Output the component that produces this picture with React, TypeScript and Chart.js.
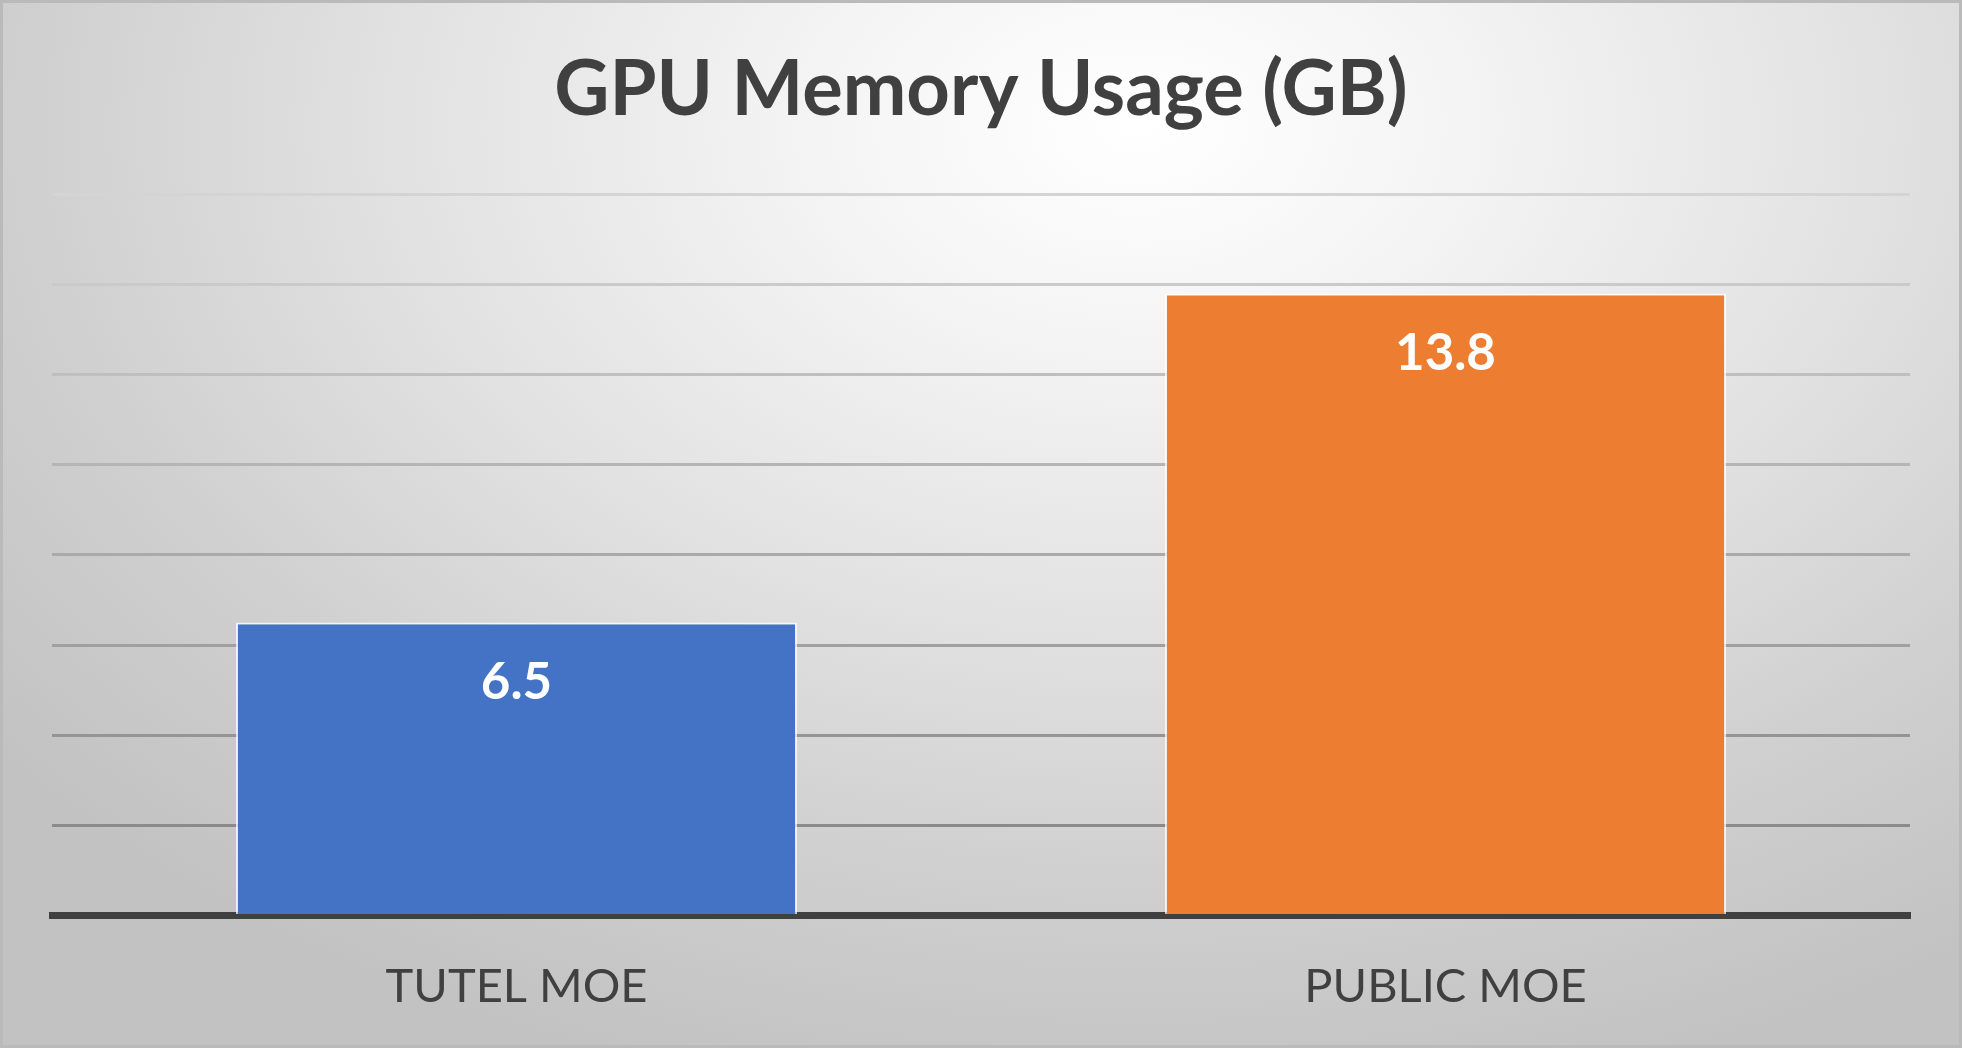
import React, { useEffect, useRef } from "react";
import { Chart, registerables } from "chart.js";

Chart.register(...registerables);

const categories = ["TUTEL MOE", "PUBLIC MOE"];
const memoryGB = [6.5, 13.8];
const barColors = ["#4472C4", "#ED7D31"];
const chartTitle = "GPU Memory Usage (GB)";
const yMax = 16;
const yStep = 2;

const FONT = "Lato, 'Open Sans', sans-serif";

function gridColor(value: number): string {
  if (value <= 0) return "rgba(0,0,0,0)";
  // lighter near the top, darker toward the bottom
  const t = value / yMax;
  const g = Math.round(128 + (212 - 128) * t);
  return `rgb(${g},${g},${g})`;
}

const valueLabels = {
  id: "valueLabels",
  afterDatasetsDraw(chart: any) {
    const ctx = chart.ctx;
    const meta = chart.getDatasetMeta(0);
    const data = chart.data.datasets[0].data as number[];
    ctx.save();
    ctx.fillStyle = "#ffffff";
    ctx.font = `bold 51px ${FONT}`;
    ctx.textAlign = "center";
    ctx.textBaseline = "middle";
    meta.data.forEach((bar: any, i: number) => {
      ctx.fillText(String(data[i]), bar.x, bar.y + 60);
    });
    ctx.restore();
  },
};

export default function App() {
  const ref = useRef<HTMLCanvasElement | null>(null);

  useEffect(() => {
    if (!ref.current) return;
    const chart = new Chart(ref.current, {
      type: "bar",
      data: {
        labels: categories,
        datasets: [
          {
            data: memoryGB,
            backgroundColor: barColors,
            borderColor: "rgba(255,255,255,0.75)",
            borderWidth: 2,
            barPercentage: 0.604,
            categoryPercentage: 1,
          },
        ],
      },
      options: {
        responsive: false,
        animation: false,
        devicePixelRatio: 1,
        layout: { padding: { left: 52, right: 52, top: 0, bottom: 1 } },
        plugins: {
          legend: { display: false },
          tooltip: { enabled: false },
          title: {
            display: true,
            text: chartTitle,
            color: "#404040",
            font: { family: FONT, size: 76, weight: "bold", lineHeight: 1.2 },
            padding: { top: 45, bottom: 58 },
          },
        },
        scales: {
          x: {
            grid: { display: false, drawTicks: false },
            border: { display: true, color: "#404040", width: 7 },
            ticks: {
              color: "#404040",
              font: { family: FONT, size: 47, lineHeight: 1.2 },
              padding: 43,
            },
          },
          y: {
            min: 0,
            max: yMax,
            ticks: { display: false, stepSize: yStep },
            border: { display: false },
            grid: {
              drawTicks: false,
              lineWidth: 3,
              color: (ctx: any) => gridColor(ctx.tick ? ctx.tick.value : 0),
            },
          },
        },
      },
      plugins: [valueLabels],
    });
    return () => chart.destroy();
  }, []);

  return (
    <div
      style={{
        position: "fixed",
        left: 0,
        top: 0,
        width: 1962,
        height: 1048,
        overflow: "hidden",
        background:
          "radial-gradient(ellipse 75% 95% at 58% 12%, #ffffff 0%, #f4f4f4 22%, #e2e2e2 50%, #d0d0d0 75%, #c2c2c2 100%)",
        boxShadow: "inset 0 0 0 3px #bababa",
      }}
    >
      <canvas ref={ref} width={1962} height={1059} style={{ width: 1962, height: 1059, display: "block" }} />
    </div>
  );
}
